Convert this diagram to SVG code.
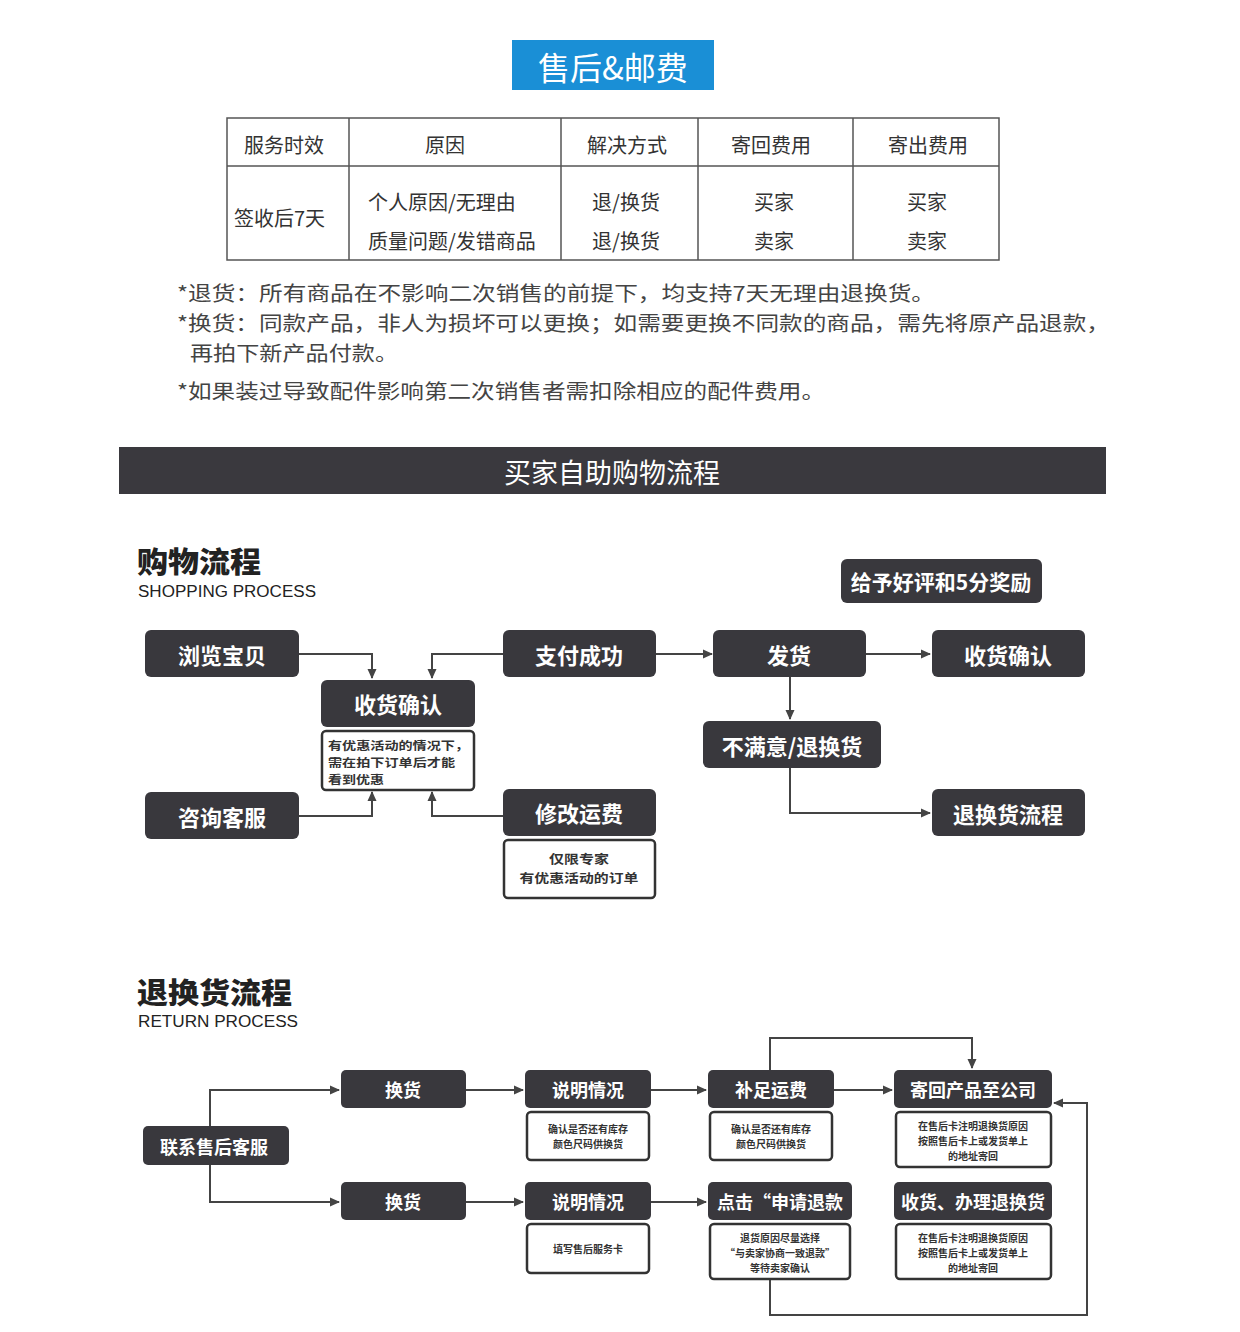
<svg xmlns="http://www.w3.org/2000/svg" width="1240" height="1332" viewBox="0 0 1240 1332">
<defs>
<style>
text{font-family:"Noto Sans CJK SC","Noto Sans",sans-serif;}
.tb{font-size:20px;fill:#333;dominant-baseline:central;}
.c{text-anchor:middle;}
.note{font-size:20px;fill:#444;dominant-baseline:central;}
.nd{fill:#39383d;}
.nt{fill:#fff;font-size:22px;font-weight:700;text-anchor:middle;dominant-baseline:central;}
.rt{fill:#fff;font-size:18px;font-weight:700;text-anchor:middle;dominant-baseline:central;}
.sub{fill:#fff;stroke:#333;stroke-width:2.5;}
.st{fill:#333;font-size:11.5px;font-weight:700;dominant-baseline:central;}
.sm{fill:#333;font-size:12.5px;font-weight:700;dominant-baseline:central;text-anchor:middle;}
.sr{fill:#333;font-size:10px;font-weight:700;text-anchor:middle;dominant-baseline:central;}
.cn{fill:none;stroke:#444;stroke-width:2;marker-end:url(#ah);}
.h1{font-size:29px;font-weight:900;fill:#222;dominant-baseline:central;}
.h2{font-family:"Liberation Sans",Arial,sans-serif;font-size:16px;fill:#222;dominant-baseline:central;}
</style>
<marker id="ah" markerWidth="10" markerHeight="10" refX="9" refY="5" orient="auto" markerUnits="userSpaceOnUse">
<path d="M0,0.5 L10,5 L0,9.5 Z" fill="#444"/>
</marker>
</defs>
<rect width="1240" height="1332" fill="#fff"/>

<g id="title">
<rect x="512" y="40" width="202" height="50" fill="#1a8fd6"/>
<text x="613" y="66" fill="#fff" font-size="32" text-anchor="middle" dominant-baseline="central">售后&amp;邮费</text>
</g>

<g id="table" fill="none" stroke="#555" stroke-width="1.5">
<rect x="227" y="118" width="772" height="142"/>
<line x1="227" y1="166" x2="999" y2="166"/>
<line x1="349" y1="118" x2="349" y2="260"/>
<line x1="561" y1="118" x2="561" y2="260"/>
<line x1="698" y1="118" x2="698" y2="260"/>
<line x1="853" y1="118" x2="853" y2="260"/>
</g>
<g id="table-text">
<text class="tb c" x="284" y="144">服务时效</text>
<text class="tb c" x="445" y="144">原因</text>
<text class="tb c" x="627" y="144">解决方式</text>
<text class="tb c" x="771" y="144">寄回费用</text>
<text class="tb c" x="928" y="144">寄出费用</text>
<text class="tb" x="234" y="217">签收后7天</text>
<text class="tb" x="368" y="201">个人原因/无理由</text>
<text class="tb" x="368" y="240">质量问题/发错商品</text>
<text class="tb c" x="626" y="201">退/换货</text>
<text class="tb c" x="626" y="240">退/换货</text>
<text class="tb c" x="774" y="201">买家</text>
<text class="tb c" x="774" y="240">卖家</text>
<text class="tb c" x="927" y="201">买家</text>
<text class="tb c" x="927" y="240">卖家</text>
</g>

<g id="notes">
<text class="note" x="177" y="292" textLength="758" lengthAdjust="spacingAndGlyphs">*退货：所有商品在不影响二次销售的前提下，均支持7天无理由退换货。</text>
<text class="note" x="177" y="322" textLength="933" lengthAdjust="spacingAndGlyphs">*换货：同款产品，非人为损坏可以更换；如需要更换不同款的商品，需先将原产品退款，</text>
<text class="note" x="190" y="352" textLength="208" lengthAdjust="spacingAndGlyphs">再拍下新产品付款。</text>
<text class="note" x="177" y="390" textLength="648" lengthAdjust="spacingAndGlyphs">*如果装过导致配件影响第二次销售者需扣除相应的配件费用。</text>
</g>

<g id="banner">
<rect x="119" y="447" width="987" height="47" fill="#3a393e"/>
<text x="612" y="471" fill="#fff" font-size="27" text-anchor="middle" dominant-baseline="central">买家自助购物流程</text>
</g>

<g id="shopping-header">
<text class="h1" x="137" y="560" textLength="124" lengthAdjust="spacingAndGlyphs">购物流程</text>
<text class="h2" x="138" y="591" textLength="178" lengthAdjust="spacingAndGlyphs">SHOPPING PROCESS</text>
</g>

<g id="connectors">
<polyline class="cn" points="299,654 372,654 372,678"/>
<polyline class="cn" points="503,654 432,654 432,678"/>
<polyline class="cn" points="299,816 372,816 372,792"/>
<polyline class="cn" points="503,816 432,816 432,792"/>
<polyline class="cn" points="656,654 712,654"/>
<polyline class="cn" points="866,654 930,654"/>
<polyline class="cn" points="790,677 790,719"/>
<polyline class="cn" points="790,768 790,813 930,813"/>

<polyline class="cn" points="210,1127 210,1090 339,1090"/>
<polyline class="cn" points="210,1164 210,1202 339,1202"/>
<polyline class="cn" points="466,1090 523,1090"/>
<polyline class="cn" points="651,1090 706,1090"/>
<polyline class="cn" points="834,1090 892,1090"/>
<polyline class="cn" points="770,1070 770,1038 972,1038 972,1068"/>
<polyline class="cn" points="466,1202 523,1202"/>
<polyline class="cn" points="651,1202 706,1202"/>
<polyline class="cn" points="770,1279 770,1315 1087,1315 1087,1103 1054,1103"/>
</g>

<g id="n-praise"><rect class="nd" x="841" y="559" width="201" height="44" rx="6"/><text class="nt" x="941" y="581" style="font-size:21px">给予好评和5分奖励</text></g>
<g id="n-browse"><rect class="nd" x="145" y="630" width="154" height="47" rx="6"/><text class="nt" x="222" y="654">浏览宝贝</text></g>
<g id="n-pay"><rect class="nd" x="503" y="630" width="153" height="47" rx="6"/><text class="nt" x="579" y="654">支付成功</text></g>
<g id="n-ship"><rect class="nd" x="713" y="630" width="153" height="47" rx="6"/><text class="nt" x="789" y="654">发货</text></g>
<g id="n-confirm2"><rect class="nd" x="932" y="630" width="153" height="47" rx="6"/><text class="nt" x="1008" y="654">收货确认</text></g>
<g id="n-confirm1">
<rect class="nd" x="321" y="680" width="154" height="47" rx="6"/><text class="nt" x="398" y="703">收货确认</text>
<rect class="sub" x="322" y="731" width="152" height="59" rx="4"/>
<text class="st" x="328" y="745" textLength="141" lengthAdjust="spacingAndGlyphs">有优惠活动的情况下，</text>
<text class="st" x="328" y="762" textLength="127" lengthAdjust="spacingAndGlyphs">需在拍下订单后才能</text>
<text class="st" x="328" y="779" textLength="56" lengthAdjust="spacingAndGlyphs">看到优惠</text>
</g>
<g id="n-consult"><rect class="nd" x="145" y="792" width="154" height="47" rx="6"/><text class="nt" x="222" y="816">咨询客服</text></g>
<g id="n-modify">
<rect class="nd" x="503" y="789" width="153" height="47" rx="6"/><text class="nt" x="579" y="812">修改运费</text>
<rect class="sub" x="504" y="840" width="151" height="58" rx="4"/>
<text class="sm" x="579" y="858" textLength="60" lengthAdjust="spacingAndGlyphs">仅限专家</text>
<text class="sm" x="579" y="877" textLength="119" lengthAdjust="spacingAndGlyphs">有优惠活动的订单</text>
</g>
<g id="n-unhappy"><rect class="nd" x="703" y="721" width="178" height="47" rx="6"/><text class="nt" x="792" y="745">不满意/退换货</text></g>
<g id="n-returnflow"><rect class="nd" x="932" y="789" width="153" height="47" rx="6"/><text class="nt" x="1008" y="813">退换货流程</text></g>

<g id="return-header">
<text class="h1" x="137" y="991" textLength="155" lengthAdjust="spacingAndGlyphs">退换货流程</text>
<text class="h2" x="138" y="1021" textLength="160" lengthAdjust="spacingAndGlyphs">RETURN PROCESS</text>
</g>

<g id="r-contact"><rect class="nd" x="143" y="1126" width="146" height="39" rx="5"/><text class="rt" x="214" y="1146">联系售后客服</text></g>
<g id="r-exchange1"><rect class="nd" x="341" y="1070" width="125" height="38" rx="5"/><text class="rt" x="403" y="1089">换货</text></g>
<g id="r-exchange2"><rect class="nd" x="341" y="1182" width="125" height="38" rx="5"/><text class="rt" x="403" y="1201">换货</text></g>
<g id="r-explain1">
<rect class="nd" x="525" y="1070" width="126" height="38" rx="5"/><text class="rt" x="588" y="1089">说明情况</text>
<rect class="sub" x="527" y="1112" width="122" height="48" rx="4"/>
<text class="sr" x="588" y="1128">确认是否还有库存</text>
<text class="sr" x="588" y="1143">颜色尺码供换货</text>
</g>
<g id="r-explain2">
<rect class="nd" x="525" y="1182" width="126" height="38" rx="5"/><text class="rt" x="588" y="1201">说明情况</text>
<rect class="sub" x="527" y="1224" width="122" height="49" rx="4"/>
<text class="sr" x="588" y="1248">填写售后服务卡</text>
</g>
<g id="r-freight">
<rect class="nd" x="708" y="1070" width="126" height="38" rx="5"/><text class="rt" x="771" y="1089">补足运费</text>
<rect class="sub" x="710" y="1112" width="122" height="48" rx="4"/>
<text class="sr" x="771" y="1128">确认是否还有库存</text>
<text class="sr" x="771" y="1143">颜色尺码供换货</text>
</g>
<g id="r-sendback">
<rect class="nd" x="894" y="1070" width="158" height="38" rx="5"/><text class="rt" x="973" y="1089">寄回产品至公司</text>
<rect class="sub" x="896" y="1112" width="155" height="55" rx="4"/>
<text class="sr" x="973" y="1125">在售后卡注明退换货原因</text>
<text class="sr" x="973" y="1140">按照售后卡上或发货单上</text>
<text class="sr" x="973" y="1155">的地址寄回</text>
</g>
<g id="r-refund">
<rect class="nd" x="708" y="1182" width="144" height="38" rx="5"/><text class="rt" x="780" y="1201">点击“申请退款</text>
<rect class="sub" x="710" y="1224" width="140" height="55" rx="4"/>
<text class="sr" x="780" y="1237">退货原因尽量选择</text>
<text class="sr" x="780" y="1252">“与卖家协商一致退款”</text>
<text class="sr" x="780" y="1267">等待卖家确认</text>
</g>
<g id="r-receive">
<rect class="nd" x="894" y="1182" width="158" height="38" rx="5"/><text class="rt" x="973" y="1201">收货、办理退换货</text>
<rect class="sub" x="896" y="1224" width="155" height="55" rx="4"/>
<text class="sr" x="973" y="1237">在售后卡注明退换货原因</text>
<text class="sr" x="973" y="1252">按照售后卡上或发货单上</text>
<text class="sr" x="973" y="1267">的地址寄回</text>
</g>
</svg>
